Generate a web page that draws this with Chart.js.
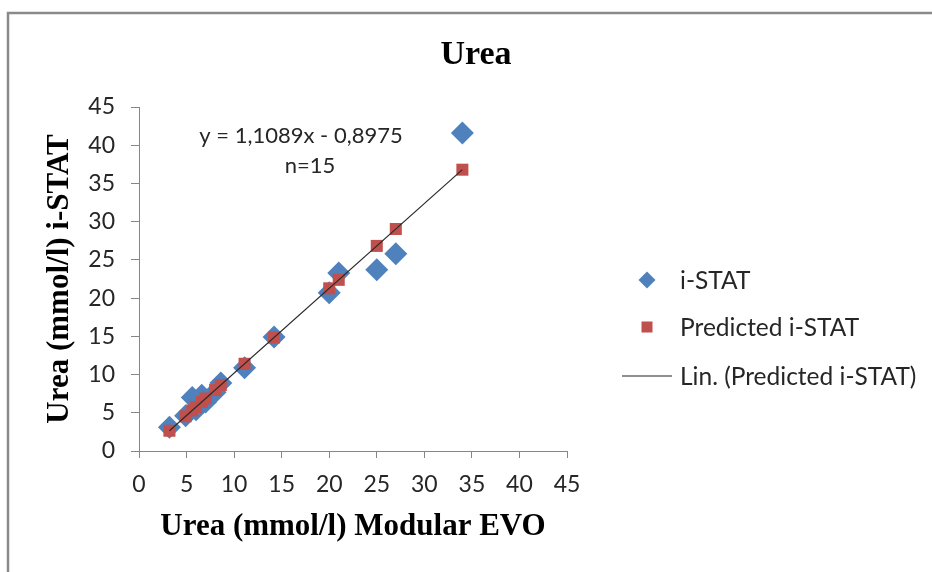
<!DOCTYPE html>
<html><head><meta charset="utf-8">
<script src="https://cdn.jsdelivr.net/npm/chart.js@4.4.1/dist/chart.umd.min.js"></script>
<style>html,body{margin:0;padding:0;background:#fff}#wrap{position:relative;width:932px;height:572px}</style>
</head><body><div id="wrap"><canvas id="c" width="932" height="572"></canvas></div>
<script>
// ---- data ----
const modularEVO     = [3.2, 4.9, 5.6, 6.0, 6.6, 7.0, 8.0, 8.6, 11.1, 14.2, 20.0, 21.0, 25.0, 27.0, 34.0];
const iSTAT          = [3.1, 4.6, 7.0, 5.4, 7.3, 6.4, 7.7, 8.9, 10.9, 14.9, 20.7, 23.3, 23.7, 25.8, 41.6];
const predictedISTAT = [2.65, 4.54, 5.31, 5.76, 6.42, 6.87, 7.97, 8.64, 11.41, 14.85, 21.28, 22.39, 26.83, 29.04, 36.80];
const axisTicks      = [0, 5, 10, 15, 20, 25, 30, 35, 40, 45];
const chartTitle     = 'Urea';
const xTitle         = 'Urea (mmol/l) Modular EVO';
const yTitle         = 'Urea (mmol/l) i-STAT';
const equationText   = 'y = 1,1089x - 0,8975';
const seriesNames    = ['i-STAT', 'Predicted i-STAT', 'Lin. (Predicted i-STAT)'];

// linear trendline (least squares) through the predicted series
function fit(xs, ys){
  const n = xs.length; let sx=0, sy=0, sxx=0, sxy=0;
  for (let i=0;i<n;i++){ sx+=xs[i]; sy+=ys[i]; sxx+=xs[i]*xs[i]; sxy+=xs[i]*ys[i]; }
  const m = (n*sxy - sx*sy)/(n*sxx - sx*sx); const b = (sy - m*sx)/n; return {m, b};
}
const tr = fit(modularEVO, predictedISTAT);
const xMin = Math.min(...modularEVO), xMax = Math.max(...modularEVO);
const trendPts = [{x:xMin, y:tr.m*xMin+tr.b}, {x:xMax, y:tr.m*xMax+tr.b}];

const BLUE = '#4F81BD', RED = '#C0504D', AXIS = '#868686', TXT = '#262626';
const SANS = 'Lato';
const SERIF = '"Liberation Serif", "Times New Roman", serif';

const overlay = {
  id: 'overlay',
  beforeDraw(chart){
    const ctx = chart.ctx; ctx.save();
    ctx.fillStyle = '#fff'; ctx.fillRect(0,0,chart.width,chart.height);
    ctx.strokeStyle = '#8a8a8a'; ctx.lineWidth = 2.5;
    ctx.beginPath(); ctx.moveTo(8, chart.height+5); ctx.lineTo(8, 13); ctx.lineTo(chart.width+5, 13); ctx.stroke();
    ctx.restore();
  },
  afterDraw(chart){
    const ctx = chart.ctx; ctx.save();
    // title
    ctx.fillStyle = '#000'; ctx.textAlign = 'center'; ctx.textBaseline = 'middle';
    ctx.font = 'bold 34px ' + SERIF;
    ctx.fillText(chartTitle, 476, 55);
    // equation annotation
    ctx.fillStyle = TXT; ctx.font = '22px ' + SANS;
    ctx.fillText(equationText, 301, 136);
    ctx.fillText('n=' + modularEVO.length, 310, 166);
    // legend
    ctx.textAlign = 'left';
    const lx = 647, tx = 680, ys = [280, 327, 376];
    ctx.fillStyle = BLUE; ctx.beginPath();
    ctx.moveTo(lx, ys[0]-8.5); ctx.lineTo(lx+8.5, ys[0]); ctx.lineTo(lx, ys[0]+8.5); ctx.lineTo(lx-8.5, ys[0]); ctx.closePath(); ctx.fill();
    ctx.fillStyle = RED; ctx.fillRect(lx-5.5, ys[1]-5.5, 11, 11);
    ctx.strokeStyle = '#222'; ctx.lineWidth = 1.2; ctx.beginPath(); ctx.moveTo(622, ys[2]); ctx.lineTo(672, ys[2]); ctx.stroke();
    ctx.fillStyle = TXT; ctx.font = '24.5px ' + SANS;
    seriesNames.forEach((s,i)=>ctx.fillText(s, tx, ys[i]+1));
    ctx.restore();
  }
};

const toPts = (xs, ys) => xs.map((x,i)=>({x, y: ys[i]}));

new Chart(document.getElementById('c'), {
  type: 'scatter',
  data: {
    datasets: [
      { label: seriesNames[2], type: 'line', data: trendPts, borderColor: '#2a2a2a', borderWidth: 1.2, pointRadius: 0, fill: false, order: 0 },
      { label: seriesNames[1], data: toPts(modularEVO, predictedISTAT), pointStyle: 'rect', pointRadius: 8.5, backgroundColor: RED, borderColor: RED, borderWidth: 0, order: 1 },
      { label: seriesNames[0], data: toPts(modularEVO, iSTAT), pointStyle: 'rectRot', pointRadius: 11.5, backgroundColor: BLUE, borderColor: BLUE, borderWidth: 0, order: 2 }
    ]
  },
  options: {
    responsive: false, animation: false, devicePixelRatio: 1,
    layout: { padding: { left: 0, top: 107, right: 365, bottom: 0 } },
    plugins: { legend: { display: false }, tooltip: { enabled: false }, title: { display: false } },
    scales: {
      x: {
        type: 'linear', min: 0, max: 45,
        afterBuildTicks: s => { s.ticks = axisTicks.map(v=>({value:v})); },
        afterFit: s => { s.height = 121; },
        grid: { display: true, drawOnChartArea: false, drawTicks: true, tickLength: 7, color: AXIS },
        border: { display: true, color: AXIS, width: 1 },
        ticks: { color: TXT, font: { family: SANS, size: 23 }, padding: 13, maxRotation: 0 },
        title: { display: true, text: xTitle, color: '#000', font: { family: SERIF, size: 31, weight: 'bold' }, padding: { top: 0, bottom: 26 } }
      },
      y: {
        type: 'linear', min: 0, max: 45,
        afterBuildTicks: s => { s.ticks = axisTicks.map(v=>({value:v})); },
        afterFit: s => { s.width = 139; },
        grid: { display: true, drawOnChartArea: false, drawTicks: true, tickLength: 8, color: AXIS },
        border: { display: true, color: AXIS, width: 1 },
        ticks: { color: TXT, font: { family: SANS, size: 23 }, padding: 16 },
        title: { display: true, text: yTitle, color: '#000', font: { family: SERIF, size: 31, weight: 'bold' }, padding: { top: 41, bottom: 0 } }
      }
    }
  },
  plugins: [overlay]
});
</script></body></html>
